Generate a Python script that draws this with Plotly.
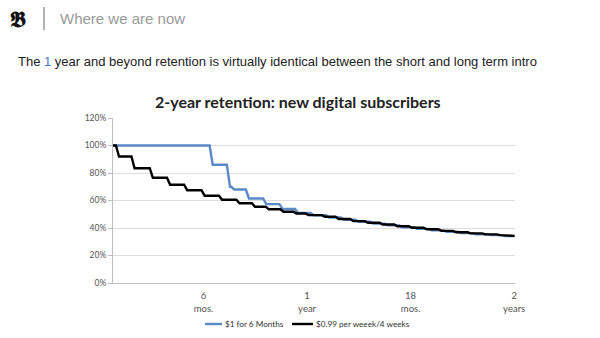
import plotly.graph_objects as go

# ---- data ----
months_black = [0.75, 0.92, 1.82, 2.88, 3.88, 4.87, 5.88, 6.89, 7.9, 8.8, 9.6, 10.45, 11.2, 11.9,
                12.85, 13.65, 14.5, 15.35, 16.2, 17.05, 17.9, 18.75, 19.6, 20.45, 21.3, 22.15,
                23.0, 23.85, 24.0]
retention_black = [100, 92, 83.5, 76.5, 71.5, 67.5, 63.5, 60.5, 58, 55.5, 53.6, 51.8, 50.6, 49.4,
                   48.2, 46.6, 45.0, 43.8, 42.5, 41.3, 40.2, 39.1, 37.9, 36.9, 36.1, 35.4,
                   34.8, 34.3, 34.3]

months_blue = [0.75, 6.35, 7.35, 7.6, 8.45, 9.45, 10.4, 11.3, 12.2, 13.1, 13.95, 14.8, 15.65,
               16.5, 17.35, 18.2, 19.05, 19.9, 20.75, 21.6, 22.45, 23.3, 24.0]
retention_blue = [100, 86, 70, 68, 61.5, 57.4, 53.8, 51.0, 49.3, 47.6, 46.0, 44.6, 43.2,
                  41.9, 40.6, 39.4, 38.3, 37.3, 36.3, 35.5, 34.8, 34.1, 34.1]

series_names = ["$1 for 6 Months", "$0.99 per weeek/4 weeks"]
series_colors = ["#5b8ac6", "#000000"]
tick_months = [6, 12, 18, 24]
tick_labels = ["6<br>mos.", "1<br>year", "18<br>mos.", "2<br>years"]
y_ticks = [0, 20, 40, 60, 80, 100, 120]
y_tick_labels = ["0%", "20%", "40%", "60%", "80%", "100%", "120%"]


def staircase(xs, ys, ramp=0.18):
    """Turn step points into a step line with short sloped drops."""
    px, py = [xs[0]], [ys[0]]
    for i in range(1, len(xs)):
        if ys[i] != ys[i - 1]:
            px += [xs[i], xs[i] + ramp]
            py += [ys[i - 1], ys[i]]
        else:
            px.append(xs[i])
            py.append(ys[i])
    return px, py


bx, by = staircase(months_blue, retention_blue)
kx, ky = staircase(months_black, retention_black)

fig = go.Figure()
fig.add_trace(go.Scatter(x=bx, y=by, mode="lines", name=series_names[0],
                         line=dict(color=series_colors[0], width=2.4), showlegend=False))
fig.add_trace(go.Scatter(x=kx, y=ky, mode="lines", name=series_names[1],
                         line=dict(color=series_colors[1], width=2.4), showlegend=False))

# plot area in pixels: x 113..515, y 118..283
L, R, T, B = 113, 515, 118, 283
W, H = 600, 338


def px_x(p):
    return (p - L) / (R - L)


def px_y(p):
    return (B - p) / (B - T)


annotations = [
    dict(text="<b>𝕭</b>", x=px_x(18), y=px_y(19), xref="paper", yref="paper",
         showarrow=False, font=dict(family="DejaVu Serif", size=22, color="#111"),
         xanchor="center", yanchor="middle"),
    dict(text="Where we are now", x=px_x(58), y=px_y(18), xref="paper", yref="paper",
         showarrow=False, font=dict(family="Liberation Sans, Arial", size=15, color="#9a9a9a"),
         xanchor="left", yanchor="middle"),
    dict(text="The <span style='color:#4a78c0'>1</span> year and beyond retention is virtually identical between the short and long term intro",
         x=px_x(16), y=px_y(61), xref="paper", yref="paper",
         showarrow=False, font=dict(family="Liberation Sans, Arial", size=13, color="#222"),
         xanchor="left", yanchor="middle"),
    dict(text="<b>2-year retention: new digital subscribers</b>", x=px_x(298), y=px_y(101),
         xref="paper", yref="paper", showarrow=False,
         font=dict(family="Lato", size=16, color="#222"), xanchor="center", yanchor="middle"),
]

shapes = [
    dict(type="line", xref="paper", yref="paper", x0=px_x(44), x1=px_x(44),
         y0=px_y(7), y1=px_y(30), line=dict(color="#666", width=1)),
]

# custom legend (short line samples like the original)
legend_items = [(205, 222), (292, 313)]
for (x0, x1), name, col in zip(legend_items, series_names, series_colors):
    shapes.append(dict(type="line", xref="paper", yref="paper", x0=px_x(x0), x1=px_x(x1),
                       y0=px_y(324), y1=px_y(324), line=dict(color=col, width=2.4)))
    annotations.append(dict(text=name, x=px_x(x1 + 1), y=px_y(324), xref="paper", yref="paper",
                            showarrow=False, xanchor="left", yanchor="middle",
                            font=dict(family="Lato", size=8.2, color="#333")))

fig.update_layout(
    width=W, height=H,
    margin=dict(l=L, r=W - R, t=T, b=H - B, autoexpand=False),
    paper_bgcolor="white", plot_bgcolor="white",
    annotations=annotations, shapes=shapes,
    showlegend=False,
    xaxis=dict(range=[0.75, 24.05], tickvals=tick_months, ticktext=tick_labels,
               showgrid=False, zeroline=False, showline=True, linecolor="#bfbfbf",
               linewidth=1, ticks="", ticklabelstandoff=4,
               tickfont=dict(family="Lato", size=9.5, color="#555")),
    yaxis=dict(range=[0, 120], tickvals=y_ticks, ticktext=y_tick_labels, showgrid=True,
               gridcolor="#dedede", gridwidth=1, zeroline=False, showline=True,
               linecolor="#bfbfbf", linewidth=1, ticks="outside", ticklen=4,
               tickcolor="#bfbfbf", tickfont=dict(family="Lato", size=8.5, color="#555")),
)

fig.write_html("out.html")
